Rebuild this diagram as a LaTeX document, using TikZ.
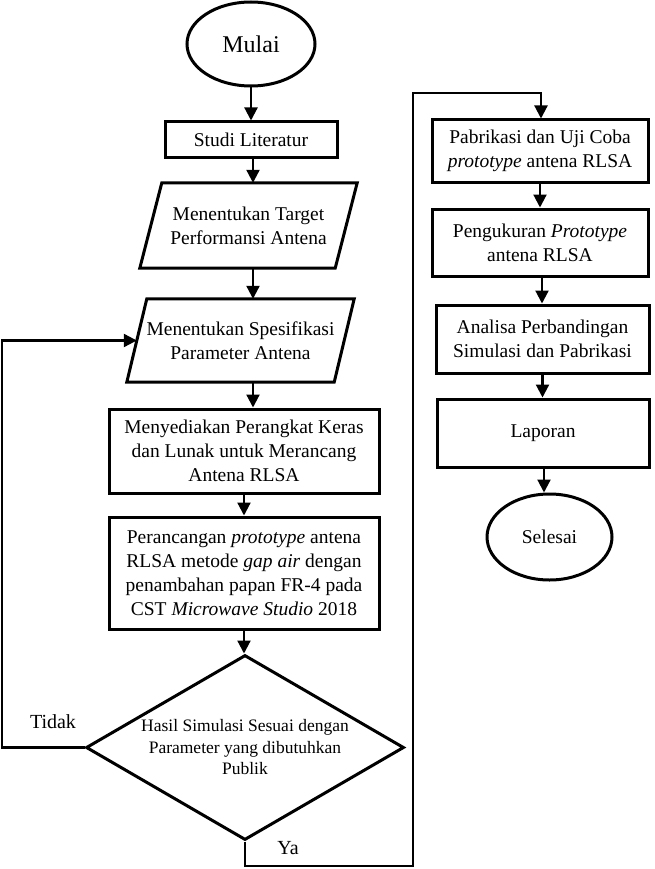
\documentclass[tikz,border=0pt]{standalone}
\usepackage{fontspec}
\setmainfont{Liberation Serif}
\usetikzlibrary{arrows.meta,shapes.geometric}
\begin{document}
\begin{tikzpicture}[x=1pt,y=-1pt,
  txt/.style={font=\fontsize{19.5}{24}\selectfont},
  box/.style={draw,line width=3pt,rectangle,inner sep=0pt,align=center,txt},
  term/.style={draw,line width=3pt,ellipse,inner sep=0pt,txt},
  pbox/.style={inner sep=0pt,align=center,txt},
  pline/.style={line width=3pt,line join=miter},
  dec/.style={draw,line width=3pt,diamond,aspect=1.7,inner sep=0pt,align=center,font=\fontsize{17.5}{21.5}\selectfont},
  arr/.style={line width=2.2pt,-{Triangle[width=13pt,length=13pt]}},
  lbl/.style={font=\fontsize{20}{24}\selectfont}]
\useasboundingbox (0,0) rectangle (654,869);

% left column
\node[term,minimum width=128pt,minimum height=84pt,font=\fontsize{24}{28}\selectfont] (mulai) at (251,44) {Mulai};
\node[box,minimum width=172pt,minimum height=36pt] (studi) at (251,140) {Studi Literatur};
\node[pbox,minimum width=217pt,minimum height=85pt] (target) at (248.5,225.5) {Menentukan Target\\Performansi Antena};
\draw[pline] ([xshift=22pt]target.north west) -- (target.north east) -- ([xshift=-22pt]target.south east) -- (target.south west) -- cycle;
\node[pbox,minimum width=227pt,minimum height=83pt] (spes) at (240.5,340.5) {Menentukan Spesifikasi\\Parameter Antena};
\draw[pline] ([xshift=20pt]spes.north west) -- (spes.north east) -- ([xshift=-20pt]spes.south east) -- (spes.south west) -- cycle;
\node[box,minimum width=270pt,minimum height=84pt] (sedia) at (244,451) {Menyediakan Perangkat Keras\\dan Lunak untuk Merancang\\Antena RLSA};
\node[box,minimum width=270pt,minimum height=112pt] (rancang) at (244,573) {Perancangan \textit{prototype} antena\\RLSA metode \textit{gap air} dengan\\penambahan papan FR-4 pada\\CST \textit{Microwave Studio} 2018};
\node[dec,minimum width=318pt,minimum height=185pt] (hasil) at (245,747.5) {Hasil Simulasi Sesuai dengan\\Parameter yang dibutuhkan\\Publik};

% right column
\node[box,minimum width=216pt,minimum height=62pt] (pabrik) at (540,151) {Pabrikasi dan Uji Coba\\\textit{prototype} antena RLSA};
\node[box,minimum width=216pt,minimum height=67pt] (ukur) at (540,242.5) {Pengukuran \textit{Prototype}\\antena RLSA};
\node[box,minimum width=213pt,minimum height=68pt] (analisa) at (542.5,339) {Analisa Perbandingan\\Simulasi dan Pabrikasi};
\node[box,minimum width=212pt,minimum height=68pt] (lapor) at (543,433) {Laporan};
\node[term,minimum width=125pt,minimum height=86pt] (selesai) at (549.5,537) {Selesai};

% labels
\node[lbl] (tidak) at (53,722) {Tidak};
\node[lbl] (ya) at (288,848) {Ya};

% helper coordinates
\coordinate (lx) at (2,0);
\coordinate (ya1) at (413,866);
\coordinate (ya2) at (413,93);

% connectors
\draw[arr] (mulai.south) -- (mulai.south |- studi.north);
\draw[arr] ([xshift=2pt]studi.south) -- ([xshift=2pt]studi.south |- target.north);
\draw[arr] ([xshift=2pt]studi.south |- target.south) -- ([xshift=2pt]studi.south |- spes.north);
\draw[arr] ([xshift=2pt]studi.south |- spes.south) -- ([xshift=2pt]studi.south |- sedia.north);
\draw[arr] (sedia.south) -- (rancang.north);
\draw[arr] (rancang.south) -- (rancang.south |- hasil.north);
\draw[arr] (hasil.west) -- (hasil.west -| lx) |- ([xshift=10pt]spes.west);
\draw[arr] (hasil.south) |- (ya1) -- (ya2) -| ([xshift=1pt]pabrik.north);
\draw[arr] (pabrik.south) -- (ukur.north);
\draw[arr] ([xshift=2pt]ukur.south) -- ([xshift=2pt]ukur.south |- analisa.north);
\draw[arr] (analisa.south) -- (analisa.south |- lapor.north);
\draw[arr] ([xshift=1pt]lapor.south) -- ([xshift=1pt]lapor.south |- selesai.north);
\end{tikzpicture}
\end{document}
